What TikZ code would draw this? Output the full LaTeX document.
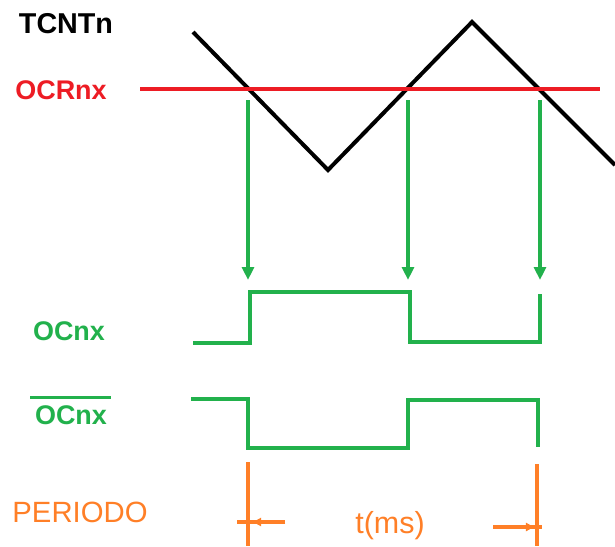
\documentclass[tikz,border=0pt]{standalone}
\usepackage{fontspec}
\setmainfont{Liberation Sans}
\usepackage{xcolor}
\usetikzlibrary{arrows.meta,positioning}

\definecolor{cntblack}{RGB}{0,0,0}
\definecolor{ocrred}{RGB}{237,28,36}
\definecolor{ocgreen}{RGB}{34,177,76}
\definecolor{perorange}{RGB}{255,127,39}

\begin{document}
\begin{tikzpicture}[
    x=0.03cm, y=-0.03cm,
    every node/.style={font=\fontsize{23}{26}\selectfont\bfseries, inner sep=0pt},
    plain/.style={font=\fontsize{25}{28}\selectfont},
    tri/.style={cntblack, line width=3.4pt},
    ocr/.style={ocrred, line width=3.4pt},
    wave/.style={ocgreen, line width=3.4pt, line join=miter},
    garr/.style={-{Triangle[length=11pt, width=10pt]}, ocgreen, line width=3.2pt},
    per/.style={perorange, line width=2.8pt},
    parr/.style={-{Triangle[length=7pt, width=7pt]}, perorange, line width=2.8pt}
]
  \useasboundingbox (0,0) rectangle (615,546);

  % labels
  \node[cntblack, font=\fontsize{24.5}{27}\selectfont\bfseries] (lcnt) at (66,24) {TCNTn};
  \node[ocrred]    (locr) at (61,90)  {OCRnx};
  \node[ocgreen]   (loc)  at (69,331) {OCnx};
  \node[ocgreen]   (locb) at (71,415) {OCnx};
  \draw[ocgreen, line width=2.6pt] ([xshift=-4pt, yshift=7pt]locb.north west) -- ([xshift=3pt, yshift=7pt]locb.north east);
  \node[perorange, plain] (lper) at (80,512) {PERIODO};
  \node[perorange, font=\fontsize{26}{28}\selectfont] (lt) at (390,526) {t(ms)};

  % counter and compare level
  \coordinate (t0) at (193,32);
  \coordinate (t1) at (328,170);
  \coordinate (t2) at (472,22);
  \coordinate (t3) at (615,165);
  \draw[tri] (t0) -- (t1) -- (t2) -- (t3);

  \coordinate (r0) at (140,89);
  \coordinate (r1) at (600,89);
  \draw[ocr] (r0) -- (r1);

  % compare matches
  \foreach \n/\x in {1/248, 2/408, 3/540}{
    \coordinate (m\n) at (\x,100);
    \coordinate (h\n) at (\x,280);
    \draw[garr] (m\n) -- (h\n);
  }

  % OCnx
  \coordinate (o0) at (193,343);
  \coordinate (o1) at (250,343);
  \coordinate (o2) at (250,292);
  \coordinate (o3) at (410,292);
  \coordinate (o4) at (410,342);
  \coordinate (o5) at (540,342);
  \coordinate (o6) at (540,294);
  \draw[wave] (o0) -- (o1) -- (o2) -- (o3) -- (o4) -- (o5) -- (o6);

  % OCnx negated
  \coordinate (n0) at (191,399);
  \coordinate (n1) at (248,399);
  \coordinate (n2) at (248,448);
  \coordinate (n3) at (408,448);
  \coordinate (n4) at (408,400);
  \coordinate (n5) at (538,400);
  \coordinate (n6) at (538,447);
  \draw[wave] (n0) -- (n1) -- (n2) -- (n3) -- (n4) -- (n5) -- (n6);

  % period
  \coordinate (p0) at (248,462);
  \coordinate (p1) at (248,546);
  \coordinate (q0) at (537,464);
  \coordinate (q1) at (537,546);
  \draw[per] (p0) -- (p1);
  \draw[per] (q0) -- (q1);

  \coordinate (a0) at (285,522);
  \coordinate (a1) at (237,522);
  \coordinate (a2) at (253,522);
  \coordinate (b0) at (493,527);
  \coordinate (b1) at (542,527);
  \coordinate (b2) at (534,527);
  \draw[per] (a0) -- (a1);
  \draw[parr] (a0) -- (a2);
  \draw[per] (b0) -- (b1);
  \draw[parr] (b0) -- (b2);
\end{tikzpicture}
\end{document}
